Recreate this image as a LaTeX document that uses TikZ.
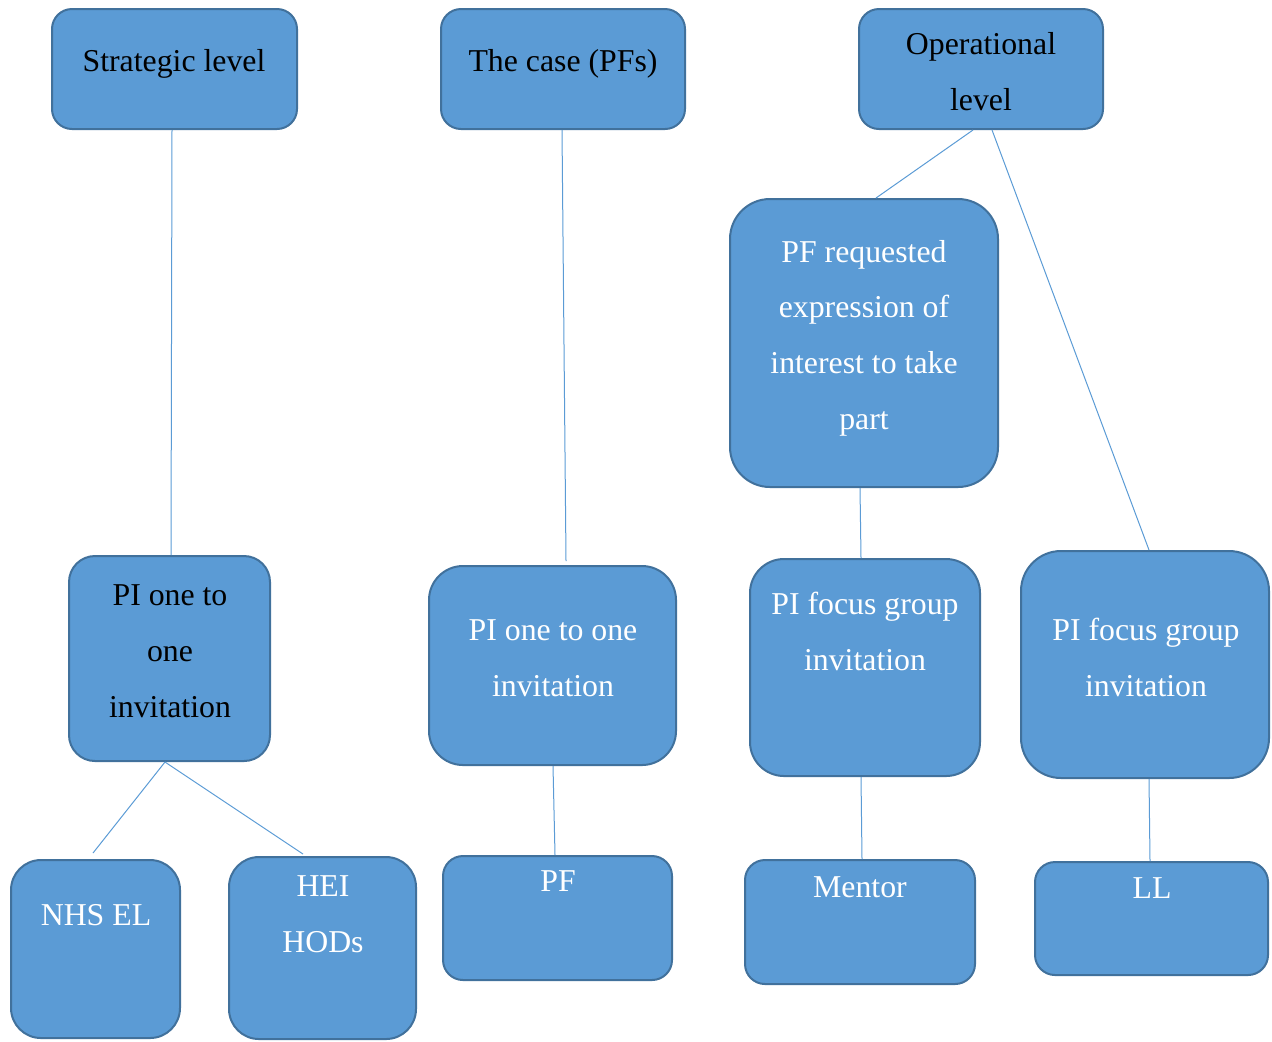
\documentclass[tikz,border=0pt]{standalone}
\usepackage{fontspec}
\setmainfont{Liberation Serif}
\definecolor{boxfill}{HTML}{5B9BD5}
\definecolor{boxedge}{HTML}{41719C}
\definecolor{linkcol}{HTML}{5B9BD5}
\begin{document}
\begin{tikzpicture}[x=0.5pt,y=-0.5pt,
  box/.style={draw=boxedge, fill=boxfill, line width=1pt, rounded corners=#1,
    inner sep=0pt},
  box/.default=10pt,
  % labels are placed by the baseline of their last line
  lbl/.style={anchor=base, align=center, inner sep=0pt,
    font=\fontsize{15.9}{27.8}\selectfont},
  dark/.style={lbl, text=black},
  light/.style={lbl, text=white},
  link/.style={draw=linkcol, line width=0.5pt}]
\useasboundingbox (0,0) rectangle (1272,1041);

% top row
\node[box, minimum width=122.5pt, minimum height=60pt] (sl) at (174.5,69) {};
\node[box, minimum width=122pt, minimum height=60pt] (cs) at (563,69) {};
\node[box, minimum width=122pt, minimum height=60pt] (op) at (981,69) {};
\node[dark] (slt) at (174,71) {Strategic level};
\node[dark] (cst) at (563,71) {The case (PFs)};
\node[dark] (opt) at (981,110) {Operational\\level};

% operational expression of interest
\node[box=20pt, minimum width=134pt, minimum height=144pt] (pfr) at (864,343) {};
\node[light] (pfrt) at (864,429) {PF requested\\expression of\\interest to take\\part};

% invitation row
\node[box=13pt, minimum width=100.5pt, minimum height=102.5pt] (lpi) at (169.5,658.5) {};
\node[box=17pt, minimum width=123.5pt, minimum height=99.5pt] (mpi) at (552.5,665.5) {};
\node[box=17pt, minimum width=115pt, minimum height=108.5pt] (fg1) at (865,667.5) {};
\node[box=20pt, minimum width=124pt, minimum height=113.5pt] (fg2) at (1145,664.5) {};
\node[dark] (lpit) at (170,717) {PI one to\\one\\invitation};
\node[light] (mpit) at (553,696) {PI one to one\\invitation};
\node[light] (fg1t) at (865,670) {PI focus group\\invitation};
\node[light] (fg2t) at (1146,696) {PI focus group\\invitation};

% participant row
\node[box=15pt, minimum width=84.5pt, minimum height=89pt] (nhs) at (95.5,949) {};
\node[box=15pt, minimum width=93.5pt, minimum height=91pt] (hei) at (322.5,948) {};
\node[box, minimum width=114.5pt, minimum height=62pt] (pf) at (557.5,918) {};
\node[box, minimum width=115pt, minimum height=62pt] (men) at (860,922) {};
\node[box, minimum width=116.5pt, minimum height=56.5pt] (ll) at (1151.5,918.5) {};
\node[light] (nhst) at (96,925) {NHS EL};
\node[light] (heit) at (323,952) {HEI\\HODs};
\node[light] (pft) at (558,891) {PF};
\node[light] (ment) at (860,897) {Mentor};
\node[light] (llt) at (1152,898) {LL};

% connectors
\draw[link] ([xshift=-1.25pt]sl.south) -- ([xshift=0.75pt]lpi.north);
\draw[link] ([xshift=-0.5pt]cs.south) -- ([xshift=6.75pt,yshift=2pt]mpi.north);
\draw[link] ([xshift=-4pt]op.south) -- ([xshift=6pt]pfr.north);
\draw[link] ([xshift=5.5pt]op.south) -- ([xshift=2pt]fg2.north);
\draw[link] ([xshift=-2pt]pfr.south) -- ([xshift=-2pt]fg1.north);
\draw[link] ([xshift=-2.25pt]lpi.south) -- ([xshift=-1.25pt,yshift=3pt]nhs.north);
\draw[link] ([xshift=-2.25pt]lpi.south) -- ([xshift=-9.75pt,yshift=1pt]hei.north);
\draw[link] ([xshift=0.25pt]mpi.south) -- ([xshift=-1.25pt]pf.north);
\draw[link] ([xshift=-2pt]fg1.south) -- ([xshift=1pt]men.north);
\draw[link] ([xshift=2pt]fg2.south) -- ([xshift=-0.75pt]ll.north);
\end{tikzpicture}
\end{document}
